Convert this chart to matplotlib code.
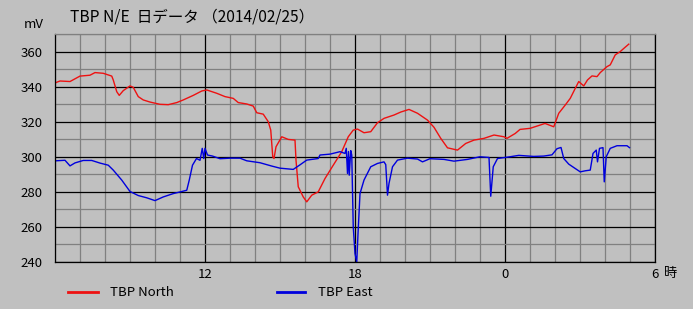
import matplotlib
matplotlib.use("Agg")
import matplotlib.pyplot as plt
from matplotlib.ticker import MultipleLocator, FixedLocator

plt.rcParams['font.family'] = ['Noto Sans CJK JP', 'DejaVu Sans']

# horas (6 = 06:00 do dia, 24 = 00:00, 30 = 06:00 do dia seguinte)
north_h = [6.0, 6.07, 6.2, 6.6, 7.0, 7.4, 7.6, 7.93, 8.27, 8.33, 8.47, 8.57, 8.73, 9.0,
           9.13, 9.33, 9.53, 9.8, 10.2, 10.53, 10.87, 11.13, 11.53, 11.87, 12.07,
           12.47, 12.8, 13.13, 13.33, 13.67, 13.93, 14.07, 14.33, 14.53, 14.63, 14.71,
           14.76, 14.84, 15.07, 15.33, 15.6, 15.64, 15.73, 15.93, 16.07, 16.27, 16.53,
           16.8, 17.13, 17.47, 17.73, 17.93, 18.1, 18.36, 18.63, 18.9, 19.16, 19.56,
           19.83, 20.16, 20.5, 20.9, 21.16, 21.43, 21.7, 22.1, 22.43, 22.76, 23.16,
           23.56, 23.96, 24.08, 24.41, 24.6, 25.0, 25.41, 25.6, 25.95, 26.15, 26.41,
           26.61, 26.81, 26.95, 27.15, 27.3, 27.48, 27.68, 27.81, 28.08, 28.21, 28.41,
           28.61, 28.81, 28.95]
north_mv = [342.0, 342.5, 343.2, 342.9, 346.0, 346.5, 348.0, 347.6, 346.0, 343.8, 337.1,
            335.0, 337.7, 340.4, 339.6, 334.3, 332.4, 331.2, 329.9, 329.7, 330.9, 332.4,
            335.0, 337.5, 338.1, 336.2, 334.3, 333.3, 330.9, 330.1, 328.9, 325.1, 324.3,
            320.0, 315.2, 300.0, 299.0, 305.7, 311.4, 309.9, 309.5, 298.1, 282.9, 277.1,
            274.3, 278.1, 280.0, 287.6, 295.2, 302.9, 311.4, 315.2, 315.8, 313.7, 314.3,
            319.4, 321.9, 323.8, 325.5, 327.0, 324.8, 320.9, 316.8, 310.5, 305.1, 303.8,
            307.6, 309.5, 310.5, 312.4, 311.4, 310.5, 313.3, 315.6, 316.2, 318.1, 319.0,
            317.1, 324.8, 329.5, 333.3, 339.0, 342.9, 340.4, 343.8, 346.1, 345.7, 348.0,
            351.4, 352.4, 358.1, 360.0, 362.5, 364.2]

east_h = [6.0, 6.04, 6.4, 6.6, 6.8, 7.13, 7.47, 7.8, 8.13, 8.33, 8.67, 9.0, 9.33, 9.67,
          10.0, 10.33, 10.73, 11.27, 11.37, 11.5, 11.66, 11.8, 11.89, 11.95, 12.0, 12.1,
          12.3, 12.6, 13.0, 13.4, 13.67, 14.2, 14.67, 15.0, 15.53, 15.8, 16.07, 16.53,
          16.6, 17.0, 17.4, 17.6, 17.65, 17.7, 17.74, 17.77, 17.83, 17.87, 17.93, 18.0,
          18.07, 18.12, 18.2, 18.36, 18.63, 18.9, 19.16, 19.23, 19.3, 19.36, 19.5, 19.7,
          20.1, 20.5, 20.7, 21.0, 21.56, 21.96, 22.5, 23.0, 23.36, 23.43, 23.53, 23.7,
          24.2, 24.55, 25.15, 25.55, 25.88, 26.08, 26.24, 26.35, 26.55, 26.81, 27.01,
          27.21, 27.41, 27.52, 27.65, 27.7, 27.78, 27.92, 27.97, 28.05, 28.21, 28.48,
          28.88, 28.98]
east_mv = [297.5, 297.7, 298.0, 294.8, 296.5, 297.9, 297.9, 296.4, 295.2, 292.4, 286.7,
           280.2, 277.9, 276.6, 275.0, 277.1, 279.0, 280.9, 286.7, 295.2, 299.0, 298.0,
           304.8, 299.0, 304.8, 301.0, 300.4, 298.9, 299.2, 299.2, 297.7, 296.6, 294.7,
           293.5, 292.8, 295.4, 298.1, 299.0, 301.0, 301.5, 302.9, 301.9, 304.8, 290.5,
           303.0, 289.5, 303.5, 301.0, 260.0, 244.8, 240.0, 256.0, 279.0, 286.7, 294.3,
           296.2, 297.1, 295.5, 278.1, 284.8, 294.3, 298.1, 299.2, 298.7, 297.1, 298.9,
           298.5, 297.5, 298.5, 300.0, 299.6, 277.5, 294.3, 299.0, 300.0, 300.8, 300.2,
           300.4, 301.1, 304.6, 305.3, 299.0, 295.8, 293.3, 291.4, 292.0, 292.4, 301.9,
           303.8, 297.1, 304.8, 305.2, 285.7, 300.0, 304.8, 306.3, 306.3, 305.2]

x_ticks = [12, 18, 24, 30]
x_labels = ['12', '18', '0', '6']
y_ticks = [240, 260, 280, 300, 320, 340, 360]

fundo = '#c0c0c0'
fig = plt.figure(figsize=(6.93, 3.09), dpi=100, facecolor=fundo)
ax = fig.add_axes([55 / 693, 47 / 309, 600 / 693, 228 / 309], facecolor=fundo)

ax.set_xlim(6, 30)
ax.set_ylim(240, 370)
ax.xaxis.set_major_locator(FixedLocator(x_ticks))
ax.set_xticklabels(x_labels)
ax.xaxis.set_minor_locator(MultipleLocator(1))
ax.yaxis.set_major_locator(FixedLocator(y_ticks))
ax.yaxis.set_minor_locator(MultipleLocator(10))

ax.grid(which='minor', color='#808080', linewidth=0.9)
ax.grid(which='major', color='black', linewidth=0.9)
ax.set_axisbelow(True)
ax.tick_params(which='both', length=0, labelsize=9.5, colors='black')
ax.tick_params(axis='y', pad=9)
ax.tick_params(axis='x', pad=4)
for lado in ['left', 'bottom', 'right']:
    ax.spines[lado].set_color('black')
    ax.spines[lado].set_linewidth(0.9)
ax.spines['top'].set_color('#808080')
ax.spines['top'].set_linewidth(0.9)

ax.plot(north_h, north_mv, color='#ee1111', linewidth=1.0)
ax.plot(east_h, east_mv, color='#0000dd', linewidth=1.0)

fig.text(671 / 693, 1 - 273 / 309, '時', fontsize=9.5, ha='center', va='center')
fig.text(34 / 693, 1 - 24 / 309, 'mV', fontsize=9.5, ha='center', va='center')
fig.text(70 / 693, 1 - 17 / 309, 'TBP N/E  日データ （2014/02/25）', fontsize=11.2,
         ha='left', va='center')

# legenda manual
y_leg = 1 - 292 / 309
fig.lines.append(plt.Line2D([68 / 693, 98 / 693], [y_leg, y_leg], color='#ee1111',
                            linewidth=2, transform=fig.transFigure))
fig.text(110 / 693, y_leg, 'TBP North', fontsize=9.5, ha='left', va='center')
fig.lines.append(plt.Line2D([277 / 693, 305 / 693], [y_leg, y_leg], color='#0000dd',
                            linewidth=2, transform=fig.transFigure))
fig.text(318 / 693, y_leg, 'TBP East', fontsize=9.5, ha='left', va='center')

fig.savefig('out.png', dpi=100, facecolor=fundo)
